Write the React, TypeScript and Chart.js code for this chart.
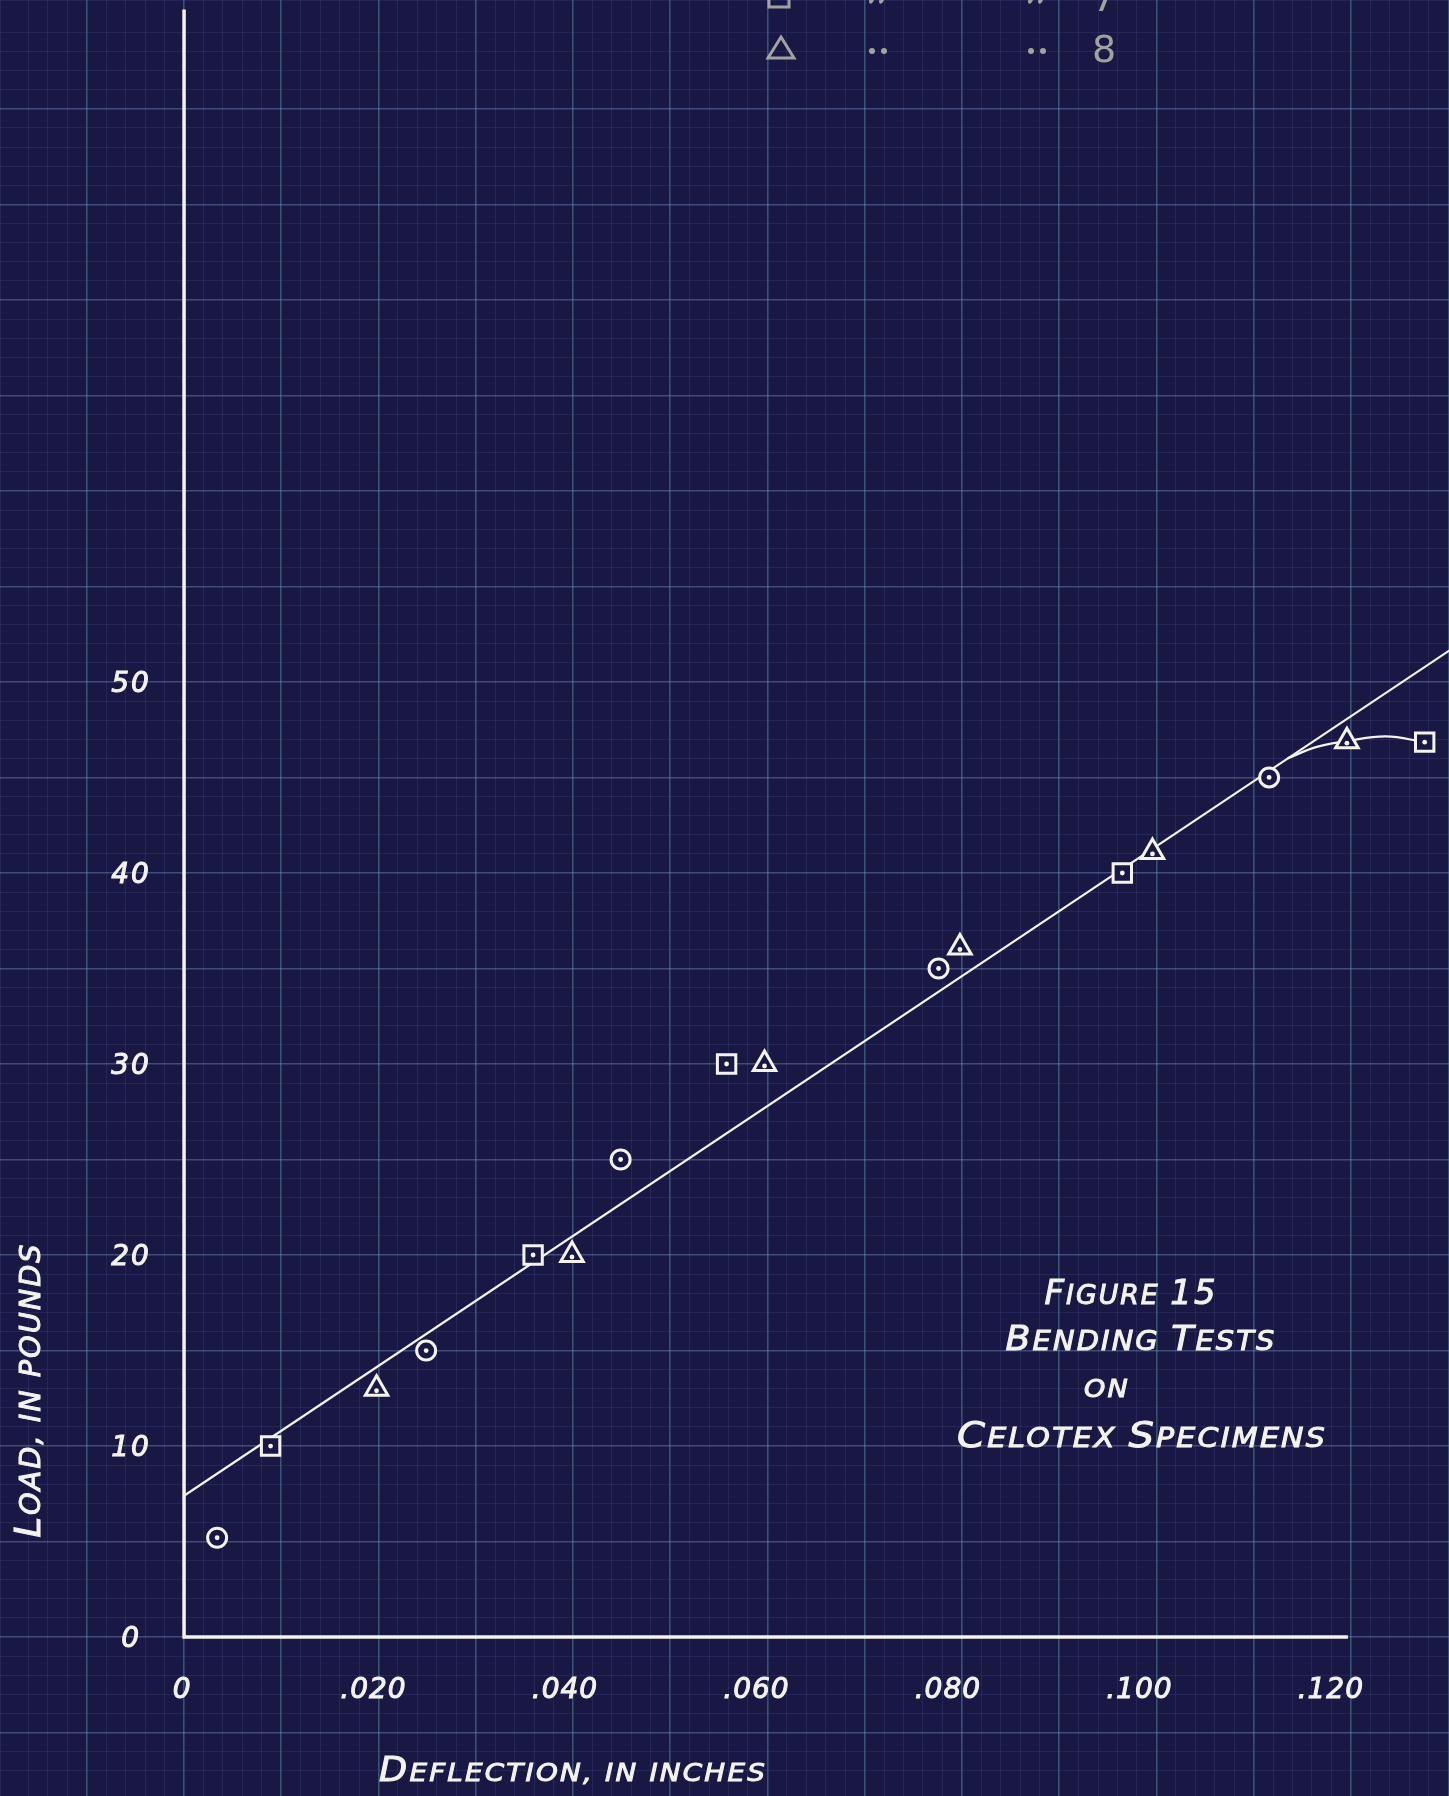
import React, { useEffect, useRef } from "react";
import { Chart, registerables } from "chart.js";

Chart.register(...registerables);

// ---- Data ----
const circleX = [0.0034, 0.0249, 0.0449, 0.0776, 0.1116];
const circleY = [5.2, 15.0, 25.0, 35.0, 45.0];

const squareX = [0.0089, 0.0359, 0.0558, 0.0965, 0.1276];
const squareY = [10.0, 20.0, 30.0, 40.0, 46.85];

const triangleX = [0.0198, 0.0399, 0.0597, 0.0798, 0.0996, 0.1196];
const triangleY = [13.0, 20.0, 30.0, 36.1, 41.1, 46.9];

const fitX = [0, 0.135];
const fitY = [7.4, 53.3];

const curveX = [0.1135, 0.1165, 0.1196, 0.1236, 0.1276];
const curveY = [46.0, 46.6, 46.9, 47.15, 46.85];

const axisLineX = [0, 0, 0.1197];
const axisLineY = [85.2, 0, 0];

const xTickValues = [0, 0.02, 0.04, 0.06, 0.08, 0.1, 0.12];
const xTickLabels = ["0", ".020", ".040", ".060", ".080", ".100", ".120"];
const yTickValues = [0, 10, 20, 30, 40, 50];
const yTickLabels = ["0", "10", "20", "30", "40", "50"];

const xTitle: [string, boolean][] = [["D", true], ["EFLECTION, IN INCHES", false]];
const yTitle: [string, boolean][] = [["L", true], ["OAD, IN POUNDS", false]];
const figureLines: [string, boolean][][] = [
  [["F", true], ["IGURE ", false], ["15", true]],
  [["B", true], ["ENDING ", false], ["T", true], ["ESTS", false]],
  [["ON", false]],
  [["C", true], ["ELOTEX ", false], ["S", true], ["PECIMENS", false]],
];

const legendRows = [
  { symbol: "rect", num: "7" },
  { symbol: "triangle", num: "8" },
];

// ---- Styles ----
const BG = "#191744";
const INK = "#f3f3ec";
const FAMILY = '"DejaVu Sans", sans-serif';
const W = 1449;
const H = 1796;

function pts(xs: number[], ys: number[]) {
  return xs.map((x, i) => ({ x, y: ys[i] }));
}

function drawCaps(
  ctx: CanvasRenderingContext2D,
  segs: [string, boolean][],
  cx: number,
  cy: number,
  big: number,
  small: number,
  targetW: number,
  rotate = 0
) {
  ctx.save();
  (ctx as any).letterSpacing = "2px";
  const parts = segs.map(([t, b]) => {
    ctx.font = `italic ${b ? big : small}px ${FAMILY}`;
    return { t, b, w: ctx.measureText(t).width };
  });
  const total = parts.reduce((s, p) => s + p.w, 0);
  const sx = targetW / total;
  ctx.translate(cx, cy);
  if (rotate) ctx.rotate(rotate);
  ctx.scale(sx, 1);
  ctx.fillStyle = INK;
  ctx.strokeStyle = INK;
  ctx.lineWidth = 1;
  ctx.textAlign = "left";
  ctx.textBaseline = "alphabetic";
  let x = -total / 2;
  for (const p of parts) {
    ctx.font = `italic ${p.b ? big : small}px ${FAMILY}`;
    ctx.fillText(p.t, x, 0);
    ctx.strokeText(p.t, x, 0);
    x += p.w;
  }
  ctx.restore();
}

const bgPlugin = {
  id: "bgPlugin",
  beforeDraw(chart: any) {
    const ctx = chart.ctx;
    ctx.save();
    ctx.fillStyle = BG;
    ctx.fillRect(0, 0, chart.width, chart.height);
    ctx.restore();
  },
};

const dotPlugin = {
  id: "dotPlugin",
  afterDatasetsDraw(chart: any) {
    const ctx = chart.ctx;
    ctx.save();
    ctx.fillStyle = INK;
    chart.data.datasets.forEach((ds: any, i: number) => {
      if (!ds.centerDot) return;
      const meta = chart.getDatasetMeta(i);
      meta.data.forEach((el: any) => {
        ctx.beginPath();
        ctx.arc(el.x, el.y + (ds.pointStyle === "triangle" ? 2 : 0), 2.4, 0, Math.PI * 2);
        ctx.fill();
      });
    });
    ctx.restore();
  },
};

const textPlugin = {
  id: "textPlugin",
  afterDraw(chart: any) {
    const ctx: CanvasRenderingContext2D = chart.ctx;
    const xs = chart.scales.x;
    const ys = chart.scales.y;
    const x0 = xs.getPixelForValue(0);
    const y0 = ys.getPixelForValue(0);

    ctx.save();
    ctx.fillStyle = INK;
    ctx.strokeStyle = INK;
    ctx.lineWidth = 1;
    ctx.textAlign = "center";
    ctx.textBaseline = "alphabetic";
    // x tick labels
    (ctx as any).letterSpacing = "1px";
    ctx.font = `italic 28px ${FAMILY}`;
    xTickValues.forEach((v, i) => {
      const px = xs.getPixelForValue(v) - 2 - v * 150;
      ctx.fillText(xTickLabels[i], px, y0 + 61);
      ctx.strokeText(xTickLabels[i], px, y0 + 61);
    });
    // y tick labels
    (ctx as any).letterSpacing = "2px";
    ctx.font = `italic 28px ${FAMILY}`;
    yTickValues.forEach((v, i) => {
      const py = ys.getPixelForValue(v);
      ctx.fillText(yTickLabels[i], x0 - 53, py + 10);
      ctx.strokeText(yTickLabels[i], x0 - 53, py + 10);
    });
    ctx.restore();

    // axis titles
    drawCaps(ctx, xTitle, 573, 1781, 33, 25, 388);
    drawCaps(ctx, yTitle, 40, 1390, 36, 28, 295, -Math.PI / 2);

    // figure caption
    drawCaps(ctx, figureLines[0], 1131, 1304, 33, 26, 173);
    drawCaps(ctx, figureLines[1], 1141, 1350, 34, 27, 271);
    drawCaps(ctx, figureLines[2], 1107, 1397, 26, 24, 46);
    drawCaps(ctx, figureLines[3], 1142, 1447, 36, 27, 370);

    // faded legend at top (mostly cut off)
    ctx.save();
    const lc = "rgba(200,200,185,0.78)";
    ctx.strokeStyle = lc;
    ctx.fillStyle = lc;
    ctx.lineWidth = 3;
    const rowY = [-3, 48];
    legendRows.forEach((r, i) => {
      const cy = rowY[i];
      ctx.beginPath();
      if (r.symbol === "rect") {
        ctx.rect(769, cy - 10, 20, 20);
      } else {
        ctx.moveTo(781, cy - 11);
        ctx.lineTo(794, cy + 10);
        ctx.lineTo(768, cy + 10);
        ctx.closePath();
      }
      ctx.stroke();
      // ditto marks
      [872, 1031].forEach((dx) => {
        for (let k = 0; k < 2; k++) {
          ctx.beginPath();
          if (i === 0) {
            ctx.ellipse(dx + k * 10, cy + 2, 2.2, 5, 0.4, 0, Math.PI * 2);
          } else {
            ctx.arc(dx + k * 12, cy + 3, 3, 0, Math.PI * 2);
          }
          ctx.fill();
        }
      });
      ctx.font = `38px ${FAMILY}`;
      ctx.textAlign = "center";
      ctx.fillText(r.num, 1104, cy + 14);
    });
    ctx.restore();
  },
};

function isMajorX(v: number) {
  return Math.abs(Math.round(v * 1000)) % 10 === 0;
}
function isMajorY(v: number) {
  return Math.abs(Math.round(v)) % 5 === 0;
}

export default function App() {
  const canvasRef = useRef<HTMLCanvasElement | null>(null);

  useEffect(() => {
    if (!canvasRef.current) return;
    const markerCommon = {
      showLine: false,
      borderColor: INK,
      backgroundColor: BG,
      borderWidth: 3,
      centerDot: true,
      order: 0,
    };
    const chart = new Chart(canvasRef.current, {
      type: "scatter",
      data: {
        datasets: [
          {
            label: "axes",
            data: pts(axisLineX, axisLineY),
            showLine: true,
            borderColor: INK,
            borderWidth: 3.5,
            pointRadius: 0,
            tension: 0,
            order: 3,
          } as any,
          {
            label: "fit",
            data: pts(fitX, fitY),
            showLine: true,
            borderColor: INK,
            borderWidth: 2.2,
            pointRadius: 0,
            tension: 0,
            order: 2,
          },
          {
            label: "curve",
            data: pts(curveX, curveY),
            showLine: true,
            borderColor: INK,
            borderWidth: 2.2,
            pointRadius: 0,
            tension: 0.4,
            order: 2,
          },
          {
            label: "Specimen 6",
            data: pts(circleX, circleY),
            pointStyle: "circle",
            pointRadius: 9.5,
            ...markerCommon,
          } as any,
          {
            label: "Specimen 7",
            data: pts(squareX, squareY),
            pointStyle: "rect",
            pointRadius: 13,
            ...markerCommon,
          } as any,
          {
            label: "Specimen 8",
            data: pts(triangleX, triangleY),
            pointStyle: "triangle",
            pointRadius: 13,
            ...markerCommon,
          } as any,
        ],
      },
      options: {
        responsive: false,
        animation: false,
        layout: { padding: 0, autoPadding: false },
        plugins: {
          legend: { display: false },
          tooltip: { enabled: false },
        },
        scales: {
          x: {
            type: "linear",
            min: -0.01893,
            max: 0.1301,
            border: { display: false },
            ticks: { display: false, stepSize: 0.002, maxTicksLimit: 1000 },
            grid: {
              drawTicks: false,
              color: (c: any) =>
                isMajorX(c.tick ? c.tick.value : 0.001)
                  ? "rgba(95,170,180,0.42)"
                  : "rgba(85,105,170,0.2)",
              lineWidth: (c: any) => (isMajorX(c.tick ? c.tick.value : 0.001) ? 1.6 : 1),
            },
          },
          y: {
            type: "linear",
            min: -8.32,
            max: 85.7,
            border: { display: false },
            ticks: { display: false, stepSize: 1, maxTicksLimit: 1000 },
            grid: {
              drawTicks: false,
              color: (c: any) =>
                isMajorY(c.tick ? c.tick.value : 0.5)
                  ? "rgba(120,150,200,0.42)"
                  : "rgba(85,105,170,0.19)",
              lineWidth: (c: any) => (isMajorY(c.tick ? c.tick.value : 0.5) ? 1.6 : 1),
            },
          },
        },
      } as any,
      plugins: [bgPlugin, dotPlugin, textPlugin],
    });
    return () => chart.destroy();
  }, []);

  return (
    <div
      style={{
        position: "absolute",
        left: 0,
        top: 0,
        width: W,
        height: H,
        background: BG,
        overflow: "hidden",
      }}
    >
      <canvas ref={canvasRef} width={W} height={H} style={{ display: "block" }} />
    </div>
  );
}
